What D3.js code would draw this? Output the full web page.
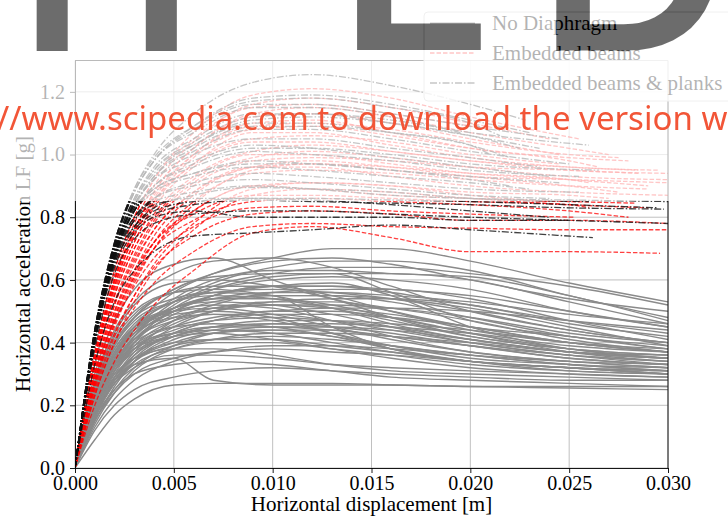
<!DOCTYPE html>
<html>
<head>
<meta charset="utf-8">
<script src="https://cdn.jsdelivr.net/npm/d3@7"></script>
<style>
  body { margin: 0; background: #fff; }
  svg { display: block; }
</style>
</head>
<body>
<div id="chart"></div>
<script>
// tick values
var xTicks = [0, 0.005, 0.010, 0.015, 0.020, 0.025, 0.030];
var yTicks = [0, 0.2, 0.4, 0.6, 0.8, 1.0, 1.2];
var legendLabels = ["No Diaphragm", "Embedded beams", "Embedded beams & planks"];

// displacement grid for the No Diaphragm curves [m]
var xGray = [0, 0.001, 0.002, 0.003, 0.005, 0.007, 0.010, 0.013, 0.016, 0.020, 0.025, 0.030];
// load factor read at each grid displacement
var noDiaphragm = [
  [0,0.22,0.36,0.45,0.56,0.62,0.67,0.70,0.70,0.66,0.59,0.53],
  [0,0.25,0.40,0.48,0.57,0.62,0.66,0.67,0.65,0.60,0.54,0.50],
  [0,0.20,0.33,0.42,0.53,0.59,0.64,0.66,0.66,0.63,0.55,0.48],
  [0,0.28,0.44,0.53,0.62,0.66,0.67,0.64,0.58,0.50,0.44,0.40],
  [0,0.30,0.47,0.57,0.65,0.67,0.60,0.54,0.50,0.45,0.42,0.38],
  [0,0.22,0.35,0.44,0.54,0.60,0.63,0.63,0.62,0.61,0.55,0.47],
  [0,0.18,0.31,0.40,0.51,0.57,0.61,0.62,0.62,0.60,0.53,0.46],
  [0,0.24,0.39,0.48,0.57,0.61,0.62,0.62,0.56,0.47,0.42,0.39],
  [0,0.26,0.41,0.49,0.56,0.58,0.58,0.55,0.50,0.44,0.40,0.37],
  [0,0.20,0.33,0.41,0.50,0.55,0.58,0.58,0.57,0.55,0.50,0.45],
  [0,0.23,0.37,0.45,0.53,0.56,0.57,0.56,0.54,0.50,0.44,0.40],
  [0,0.17,0.29,0.37,0.47,0.52,0.56,0.57,0.57,0.54,0.47,0.41],
  [0,0.27,0.42,0.50,0.56,0.57,0.55,0.51,0.46,0.41,0.37,0.35],
  [0,0.21,0.34,0.42,0.50,0.54,0.55,0.55,0.53,0.48,0.42,0.38],
  [0,0.19,0.32,0.40,0.49,0.53,0.55,0.55,0.54,0.51,0.45,0.39],
  [0,0.25,0.39,0.47,0.53,0.55,0.54,0.51,0.47,0.42,0.38,0.36],
  [0,0.22,0.35,0.43,0.51,0.54,0.54,0.52,0.48,0.43,0.38,0.35],
  [0,0.16,0.28,0.36,0.45,0.50,0.53,0.54,0.54,0.52,0.46,0.42],
  [0,0.24,0.37,0.45,0.51,0.53,0.52,0.49,0.45,0.40,0.36,0.33],
  [0,0.20,0.33,0.41,0.48,0.51,0.52,0.51,0.49,0.45,0.40,0.37],
  [0,0.18,0.30,0.38,0.46,0.50,0.52,0.52,0.51,0.48,0.43,0.40],
  [0,0.23,0.36,0.44,0.50,0.52,0.51,0.47,0.42,0.37,0.34,0.32],
  [0,0.21,0.34,0.41,0.47,0.49,0.49,0.47,0.44,0.40,0.36,0.34],
  [0,0.17,0.29,0.36,0.43,0.47,0.49,0.49,0.48,0.45,0.40,0.37],
  [0,0.24,0.36,0.43,0.48,0.49,0.47,0.43,0.39,0.35,0.33,0.31],
  [0,0.19,0.31,0.38,0.44,0.47,0.48,0.47,0.45,0.41,0.37,0.35],
  [0,0.15,0.26,0.34,0.42,0.45,0.47,0.47,0.46,0.44,0.40,0.38],
  [0,0.22,0.33,0.40,0.45,0.46,0.45,0.42,0.38,0.34,0.31,0.30],
  [0,0.18,0.29,0.36,0.42,0.45,0.46,0.45,0.43,0.39,0.35,0.33],
  [0,0.20,0.31,0.37,0.42,0.44,0.44,0.42,0.39,0.36,0.33,0.31],
  [0,0.16,0.27,0.34,0.40,0.43,0.44,0.44,0.42,0.39,0.35,0.33],
  [0,0.23,0.33,0.38,0.42,0.43,0.41,0.38,0.35,0.32,0.30,0.29],
  [0,0.14,0.24,0.31,0.38,0.41,0.43,0.43,0.42,0.40,0.37,0.36],
  [0,0.19,0.29,0.35,0.40,0.41,0.41,0.39,0.37,0.34,0.32,0.30],
  [0,0.17,0.27,0.33,0.38,0.40,0.40,0.38,0.36,0.33,0.31,0.30],
  [0,0.21,0.30,0.35,0.38,0.38,0.36,0.33,0.31,0.30,0.29,0.28],
  [0,0.15,0.24,0.30,0.35,0.37,0.38,0.37,0.36,0.34,0.32,0.31],
  [0,0.18,0.27,0.32,0.36,0.36,0.35,0.33,0.32,0.31,0.30,0.29],
  [0,0.19,0.28,0.33,0.35,0.28,0.265,0.265,0.265,0.26,0.26,0.26],
  [0,0.12,0.20,0.25,0.29,0.31,0.32,0.31,0.30,0.29,0.28,0.28],
  [0,0.09,0.17,0.22,0.265,0.27,0.27,0.27,0.265,0.26,0.255,0.25],
  [0,0.16,0.25,0.30,0.33,0.34,0.33,0.31,0.29,0.28,0.27,0.26],
  [0,0.26,0.40,0.48,0.54,0.56,0.55,0.45,0.38,0.34,0.32,0.30],
  [0,0.22,0.35,0.43,0.51,0.55,0.58,0.59,0.55,0.45,0.38,0.35],
  [0,0.24,0.38,0.46,0.53,0.57,0.60,0.61,0.60,0.57,0.50,0.45],
  [0,0.21,0.34,0.42,0.50,0.55,0.58,0.58,0.56,0.52,0.47,0.43],
  [0,0.19,0.31,0.39,0.47,0.51,0.53,0.53,0.51,0.47,0.41,0.37],
  [0,0.23,0.36,0.44,0.51,0.54,0.56,0.56,0.55,0.53,0.49,0.46],
  [0,0.17,0.28,0.35,0.43,0.47,0.50,0.50,0.48,0.43,0.37,0.34],
  [0,0.25,0.38,0.45,0.50,0.51,0.49,0.45,0.41,0.37,0.34,0.32],
  [0,0.20,0.32,0.39,0.45,0.48,0.50,0.51,0.51,0.50,0.47,0.44],
  [0,0.15,0.25,0.32,0.39,0.43,0.45,0.45,0.44,0.41,0.37,0.35],
  [0,0.22,0.33,0.39,0.43,0.44,0.43,0.40,0.37,0.34,0.32,0.31],
  [0,0.18,0.28,0.34,0.39,0.41,0.42,0.41,0.39,0.36,0.33,0.32],
  [0,0.13,0.22,0.28,0.34,0.37,0.39,0.39,0.38,0.36,0.34,0.33],
  [0,0.27,0.43,0.52,0.59,0.60,0.58,0.54,0.48,0.42,0.38,0.36],
  [0,0.20,0.33,0.42,0.52,0.58,0.62,0.64,0.64,0.62,0.58,0.52],
  [0,0.24,0.37,0.44,0.49,0.50,0.48,0.43,0.38,0.34,0.32,0.30],
  [0,0.16,0.27,0.34,0.41,0.44,0.46,0.46,0.45,0.43,0.39,0.37],
  [0,0.21,0.32,0.38,0.43,0.45,0.45,0.44,0.42,0.39,0.36,0.34]
];

// displacement grid for the diaphragm curves [m]; last value of each curve sits at its end displacement
var xStiff = [0, 0.001, 0.002, 0.003, 0.004, 0.006, 0.009, 0.012, 0.016, 0.020, 0.025, 0.030];
var beams = [
  [0,0.20,0.34,0.44,0.52,0.63,0.75,0.77,0.735,0.69,0.69,0.685],
  [0,0.23,0.40,0.51,0.59,0.69,0.77,0.78,0.77,0.765,0.76,0.76],
  [0,0.25,0.43,0.55,0.64,0.74,0.81,0.82,0.81,0.79,0.79,0.78],
  [0,0.27,0.46,0.58,0.67,0.77,0.83,0.835,0.82,0.81,0.80],
  [0,0.28,0.48,0.61,0.70,0.79,0.85,0.86,0.85,0.84,0.82,0.80],
  [0,0.30,0.50,0.63,0.72,0.81,0.87,0.87,0.86,0.85,0.84,0.83],
  [0,0.28,0.48,0.62,0.72,0.82,0.90,0.89,0.87,0.86,0.85,0.845],
  [0,0.30,0.52,0.66,0.76,0.88,0.96,0.96,0.93,0.90,0.88,0.87],
  [0,0.32,0.55,0.70,0.80,0.92,1.00,1.00,0.97,0.94,0.92,0.90],
  [0,0.33,0.57,0.72,0.83,0.96,1.04,1.04,1.01,0.98,0.95,0.94],
  [0,0.34,0.58,0.74,0.85,0.99,1.08,1.09,1.06,1.02,0.99,0.98],
  [0,0.35,0.60,0.76,0.88,1.02,1.12,1.13,1.10,1.05,1.00],
  [0,0.36,0.61,0.78,0.90,1.04,1.16,1.18,1.15,1.10,1.05],
  [0,0.37,0.63,0.80,0.92,1.07,1.19,1.21,1.18,1.12,1.05],
  [0,0.32,0.55,0.70,0.81,0.93,1.01,1.03,1.01,0.98,0.96,0.95],
  [0,0.31,0.53,0.68,0.79,0.91,0.99,1.01,0.99,0.96,0.93,0.92],
  [0,0.29,0.50,0.65,0.76,0.88,0.96,0.98,0.96,0.93,0.90,0.88],
  [0,0.34,0.59,0.75,0.86,1.00,1.10,1.11,1.07,1.02,0.98,0.96],
  [0,0.35,0.60,0.76,0.88,1.02,1.13,1.15,1.12,1.07,1.02,1.00],
  [0,0.27,0.47,0.61,0.72,0.85,0.94,0.95,0.94,0.92,0.90,0.89],
  [0,0.30,0.52,0.67,0.78,0.90,0.98,0.99,0.98,0.96,0.95,0.94],
  [0,0.32,0.56,0.72,0.84,0.97,1.05,1.06,1.04,1.00,0.97],
  [0,0.28,0.49,0.63,0.74,0.87,0.96,0.97,0.95,0.93,0.92,0.91],
  [0,0.35,0.60,0.76,0.87,1.00,1.09,1.10,1.08,1.04,1.00,0.99],
  [0,0.26,0.46,0.60,0.70,0.82,0.90,0.91,0.90,0.88,0.87,0.86],
  [0,0.24,0.42,0.55,0.65,0.78,0.89,0.91,0.90,0.87,0.85],
  [0,0.23,0.40,0.53,0.63,0.76,0.87,0.89,0.88,0.86,0.84,0.83],
  [0,0.34,0.58,0.74,0.85,0.97,1.07,1.07,1.03,0.99,0.96,0.95],
  [0,0.37,0.63,0.80,0.92,1.05,1.15,1.16,1.13,1.08],
  [0,0.26,0.45,0.59,0.70,0.84,0.95,0.97,0.96,0.94,0.92,0.91]
];
var beamsEnd = [0.0296,0.030,0.030,0.0253,0.028,0.026,0.0283,0.030,0.029,0.030,0.028,0.0245,0.024,0.0255,0.0285,
  0.030,0.0275,0.0265,0.027,0.029,0.0285,0.0245,0.030,0.0275,0.027,0.024,0.029,0.0295,0.021,0.026];

var planks = [
  [0,0.33,0.53,0.63,0.69,0.74,0.75,0.76,0.775,0.76,0.735],
  [0,0.40,0.65,0.76,0.81,0.84,0.855,0.85,0.845,0.84,0.83,0.826],
  [0,0.38,0.62,0.73,0.78,0.81,0.82,0.82,0.81,0.80,0.79,0.78],
  [0,0.40,0.66,0.77,0.82,0.85,0.86,0.855,0.84,0.82,0.80],
  [0,0.44,0.72,0.89,1.00,1.13,1.23,1.255,1.22,1.16,1.11],
  [0,0.43,0.71,0.88,0.98,1.09,1.18,1.19,1.16,1.11,1.07],
  [0,0.44,0.72,0.88,0.98,1.08,1.16,1.16,1.13,1.09,1.05],
  [0,0.42,0.70,0.86,0.96,1.05,1.13,1.13,1.10,1.06,1.02],
  [0,0.43,0.70,0.86,0.95,1.03,1.10,1.10,1.07,1.03,0.99],
  [0,0.41,0.68,0.84,0.93,1.01,1.08,1.08,1.05,1.01,0.97],
  [0,0.42,0.69,0.84,0.92,1.00,1.05,1.05,1.02,0.99,0.96],
  [0,0.43,0.70,0.84,0.92,0.98,1.03,1.02,0.99,0.96,0.93],
  [0,0.41,0.67,0.82,0.90,0.96,1.01,1.00,0.98,0.95,0.93],
  [0,0.42,0.68,0.82,0.89,0.94,0.98,0.97,0.95,0.93,0.91],
  [0,0.43,0.69,0.82,0.88,0.93,0.96,0.95,0.93,0.91,0.89],
  [0,0.40,0.66,0.79,0.86,0.91,0.94,0.93,0.91,0.89,0.88],
  [0,0.42,0.67,0.80,0.86,0.90,0.92,0.91,0.89,0.87,0.86],
  [0,0.41,0.65,0.77,0.83,0.87,0.895,0.89,0.88,0.86,0.85],
  [0,0.43,0.68,0.80,0.85,0.88,0.90,0.89,0.87,0.86,0.855,0.85],
  [0,0.40,0.67,0.83,0.93,1.02,1.09,1.09,1.07,1.03,1.00],
  [0,0.43,0.71,0.88,0.98,1.07,1.15,1.15,1.12,1.07],
  [0,0.41,0.68,0.85,0.94,1.03,1.11,1.12,1.10,1.06,1.02],
  [0,0.42,0.69,0.85,0.95,1.04,1.12,1.13,1.11,1.07,1.03],
  [0,0.44,0.72,0.89,0.99,1.09,1.17,1.18,1.15,1.10,1.06],
  [0,0.42,0.68,0.82,0.90,0.97,1.02,1.02,1.00,0.97,0.95],
  [0,0.44,0.70,0.83,0.89,0.94,0.97,0.97,0.95,0.92,0.90],
  [0,0.42,0.67,0.79,0.84,0.86,0.86,0.86,0.855,0.85,0.84,0.83],
  [0,0.40,0.64,0.75,0.80,0.82,0.80,0.80,0.80,0.79,0.79]
];
var planksEnd = [0.0262,0.0298,0.030,0.024,0.0228,0.023,0.0245,0.0235,0.022,0.025,0.0235,0.024,0.0255,0.0245,
  0.023,0.0255,0.024,0.026,0.030,0.021,0.0195,0.0225,0.026,0.0215,0.0265,0.022,0.0295,0.025];

var W = 728, H = 517;
var serif = "'Liberation Serif', 'Times New Roman', serif";

var svg = d3.select("#chart").append("svg")
    .attr("width", W)
    .attr("height", H);

var x = d3.scaleLinear().domain([0, 0.03]).range([75, 668]);
var y = d3.scaleLinear().domain([0, 1.3]).range([468, 60.5]);

var defs = svg.append("defs");
defs.append("clipPath").attr("id", "plot")
    .append("rect").attr("x", 75).attr("y", 60.5).attr("width", 593).attr("height", 407.5);

// grid
var grid = svg.append("g").attr("stroke", "#b0b0b0").attr("stroke-width", 0.8);
grid.selectAll(".gx").data(xTicks).enter().append("line")
    .attr("x1", d => x(d)).attr("x2", d => x(d)).attr("y1", 60.5).attr("y2", 468);
grid.selectAll(".gy").data(yTicks).enter().append("line")
    .attr("y1", d => y(d)).attr("y2", d => y(d)).attr("x1", 75).attr("x2", 668);

var line = d3.line()
    .x(d => x(d[0]))
    .y(d => y(d[1]))
    .curve(d3.curveMonotoneX);

function points(grid, ys, end) {
  var pts = ys.map((v, i) => [grid[i], v]);
  if (end != null) pts[pts.length - 1][0] = end;
  return pts;
}

var curves = svg.append("g").attr("clip-path", "url(#plot)").attr("fill", "none");

curves.append("g").selectAll("path")
    .data(noDiaphragm)
    .enter().append("path")
    .attr("d", d => line(points(xGray, d)))
    .attr("stroke", "#8a8a8a")
    .attr("stroke-width", 1.4);

curves.append("g").selectAll("path")
    .data(beams)
    .enter().append("path")
    .attr("d", (d, i) => line(points(xStiff, d, beamsEnd[i])))
    .attr("stroke", "#ff0000")
    .attr("stroke-opacity", 0.75)
    .attr("stroke-width", 1.3)
    .attr("stroke-dasharray", "4.5,2");

curves.append("g").selectAll("path")
    .data(planks)
    .enter().append("path")
    .attr("d", (d, i) => line(points(xStiff, d, planksEnd[i])))
    .attr("stroke", "#111")
    .attr("stroke-opacity", 0.8)
    .attr("stroke-width", 1.3)
    .attr("stroke-dasharray", "7,2,1.5,2");

// axes
var gx = svg.append("g")
    .attr("transform", "translate(0,468)")
    .call(d3.axisBottom(x).tickValues(xTicks).tickFormat(d3.format(".3f")).tickSize(5).tickSizeOuter(0).tickPadding(3));
var gy = svg.append("g")
    .attr("transform", "translate(75,0)")
    .call(d3.axisLeft(y).tickValues(yTicks).tickFormat(d3.format(".1f")).tickSize(5).tickSizeOuter(0).tickPadding(5));
[gx, gy].forEach(function(g) {
  g.attr("font-family", serif).attr("font-size", 20);
  g.selectAll("text").attr("fill", "#000");
  g.selectAll("line, path").attr("stroke", "#000").attr("stroke-width", 0.9);
});
svg.append("line").attr("x1", 668).attr("x2", 668).attr("y1", 60.5).attr("y2", 468)
    .attr("stroke", "#000").attr("stroke-width", 0.9);
svg.append("line").attr("x1", 75).attr("x2", 668).attr("y1", 60.5).attr("y2", 60.5)
    .attr("stroke", "#000").attr("stroke-width", 0.9);

svg.append("text")
    .attr("x", 371.5).attr("y", 511)
    .attr("text-anchor", "middle")
    .attr("font-family", serif).attr("font-size", 21)
    .text("Horizontal displacement [m]");
svg.append("text")
    .attr("transform", "translate(30,264) rotate(-90)")
    .attr("text-anchor", "middle")
    .attr("font-family", serif).attr("font-size", 21)
    .text("Horizontal acceleration LF [g]");

// legend
var legend = svg.append("g");
legend.append("rect")
    .attr("x", 424).attr("y", 12).attr("width", 340).attr("height", 89).attr("rx", 4)
    .attr("fill", "#fff").attr("fill-opacity", 0.8)
    .attr("stroke", "#ccc").attr("stroke-width", 1);
var legendStyles = [
  {stroke: "#8a8a8a", dash: null, op: 1},
  {stroke: "#ff0000", dash: "4.5,2", op: 0.75},
  {stroke: "#111", dash: "7,2,1.5,2", op: 0.8}
];
legendLabels.forEach(function(label, i) {
  var ly = 23 + i * 30;
  legend.append("line")
      .attr("x1", 430).attr("x2", 475).attr("y1", ly).attr("y2", ly)
      .attr("stroke", legendStyles[i].stroke)
      .attr("stroke-opacity", legendStyles[i].op)
      .attr("stroke-width", 1.4)
      .attr("stroke-dasharray", legendStyles[i].dash);
  legend.append("text")
      .attr("x", 492).attr("y", ly + 7)
      .attr("font-family", serif).attr("font-size", 21)
      .text(label);
});

// watermark: whitened top band, dark letters, red banner text
var wmLetters = [
  {t: "H", x: 22, sx: 1.02},
  {t: "L", x: 341, sx: 1.12},
  {t: "D", x: 540.5, sx: 1.1}
];
function drawLetters(g, color) {
  g.selectAll("text").data(wmLetters).enter().append("text")
      .attr("transform", d => "translate(" + d.x + ",45.5) scale(" + d.sx + ",1)")
      .attr("font-family", "'Liberation Sans', Arial, sans-serif")
      .attr("font-size", 230)
      .attr("fill", color)
      .attr("stroke", color)
      .attr("stroke-width", 9)
      .text(d => d.t);
}
var mask = defs.append("mask").attr("id", "wm");
mask.append("rect").attr("x", 0).attr("y", 0).attr("width", W).attr("height", H).attr("fill", "#fff");
drawLetters(mask.append("g"), "#000");

svg.append("rect")
    .attr("x", 0).attr("y", 0).attr("width", W).attr("height", 201)
    .attr("fill", "#fff").attr("fill-opacity", 0.7)
    .attr("mask", "url(#wm)");
drawLetters(svg.append("g").attr("opacity", 0.58), "#000");

svg.append("text")
    .attr("x", -3).attr("y", 130)
    .attr("font-family", "'Noto Sans', 'Open Sans', sans-serif")
    .attr("font-size", 33)
    .attr("fill", "#f25537")
    .text("//www.scipedia.com to download the version w");
</script>
</body>
</html>
